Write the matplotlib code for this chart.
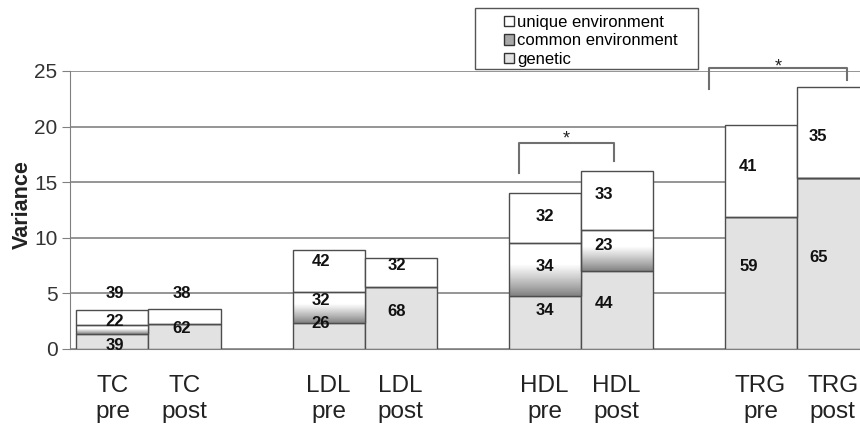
import matplotlib.pyplot as plt
import numpy as np
from matplotlib.patches import Patch, Rectangle

plt.rcParams['font.family'] = ['Liberation Sans', 'DejaVu Sans']

# data
groups = ["TC", "LDL", "HDL", "TRG"]
phases = ["pre", "post"]
total_variance = [3.5, 3.6, 8.9, 8.2, 14.0, 16.0, 20.1, 23.6]
pct_genetic = [39, 62, 26, 68, 34, 44, 59, 65]
pct_common = [22, 0, 32, 0, 34, 23, 0, 0]
pct_unique = [39, 38, 42, 32, 32, 33, 41, 35]
legend_labels = ["unique environment", "common environment", "genetic"]

# label nudges (genetic, common, unique) in variance units, and x nudge per bar
y_nudge = [(-0.4, 0.75, 2.2), (0.7, 0, 2.1), (1.15, 0.6, 0.8), (0.6, 0, 0.6),
           (1.1, 0.3, 0.15), (0.6, 0.45, 0.5), (1.5, 0, 0.4), (0.6, 0, -0.4)]
x_nudge = [0.03, -0.04, -0.11, -0.05, 0.0, -0.18, -0.17, -0.2]

tot = np.array(total_variance)
gen = tot * np.array(pct_genetic) / 100
com = tot * np.array(pct_common) / 100
uni = tot * np.array(pct_unique) / 100
xpos = np.array([g * 3 + p for g in range(len(groups)) for p in range(len(phases))])
xlabels = [f"{g}\n{p}" for g in groups for p in phases]

fig = plt.figure(figsize=(8.6, 4.34), dpi=100)
ax = fig.add_axes([70/860, 85/434, 790/860, 278/434])

edge = '#4d4d4d'
ax.bar(xpos, gen, width=1, color='#e2e2e2', edgecolor=edge, lw=1, zorder=3)

# common environment: white-to-grey gradient
t = np.linspace(0, 1, 200)
grad = 0.5 + 0.5 * np.clip(t / 0.6, 0, 1) ** 0.9
for x, b, h in zip(xpos, gen, com):
    if h > 0:
        ax.imshow(grad[:, None], extent=[x - 0.5, x + 0.5, b, b + h], origin='lower',
                  cmap='gray', vmin=0, vmax=1, aspect='auto', zorder=3)
ax.bar(xpos, com, bottom=gen, width=1, color='none', edgecolor=edge, lw=1, zorder=4)
ax.bar(xpos, uni, bottom=gen + com, width=1, color='white', edgecolor=edge, lw=1, zorder=3)

# percentage labels
for i, x in enumerate(xpos):
    segs = [(0, gen[i], pct_genetic[i]), (gen[i], com[i], pct_common[i]),
            (gen[i] + com[i], uni[i], pct_unique[i])]
    for k, (b, h, p) in enumerate(segs):
        if p > 0:
            ax.text(x + x_nudge[i], b + h / 2 + y_nudge[i][k], str(p), ha='center',
                    va='center', fontsize=12, fontweight='bold', color='#111111', zorder=6)

# significance brackets
def bracket(x0, x1, yl, yr, ytop, ystar):
    ax.plot([x0, x0, x1, x1], [yl, ytop, ytop, yr], color='#707070', lw=1.5,
            clip_on=False, zorder=5)
    ax.text((x0 + x1) / 2, ystar, '*', ha='center', va='center', fontsize=13,
            color='#222222', clip_on=False, zorder=6)

bracket(5.64, 6.96, 15.8, 16.9, 18.5, 18.85)
bracket(8.28, 10.2, 23.4, 24.2, 25.3, 25.35)

ax.set_xlim(-0.59, 10.38)
ax.set_ylim(0, 25)
ax.set_yticks(range(0, 26, 5))
ax.yaxis.grid(True, color='#8c8c8c', lw=1.3)
ax.set_axisbelow(True)
ax.set_xticks(xpos)
ax.set_xticklabels(xlabels, fontsize=17.5, linespacing=1.2, color='#222222')
ax.tick_params(axis='x', length=0, pad=19)
ax.tick_params(axis='y', labelsize=15, colors='#808080', labelcolor='#333333',
               length=6, pad=3)
for s in ['top', 'right']:
    ax.spines[s].set_visible(False)
ax.spines['left'].set_color('#808080')
ax.spines['bottom'].set_color('#808080')
ax.set_ylabel('Variance', fontsize=15.5, fontweight='bold', color='#222222')
ax.yaxis.set_label_coords(-0.047, 0.518)

# legend with its own box
fig.add_artist(Rectangle((475/860, 1 - 69/434), 223/860, 61/434, transform=fig.transFigure,
                         fill=False, ec='#555555', lw=1))
handles = [Patch(fc='white', ec='#333333'), Patch(fc='#a8a8a8', ec='#333333'),
           Patch(fc='#e2e2e2', ec='#333333')]
fig.legend(handles, legend_labels, loc='upper left', bbox_to_anchor=(504/860, 1 - 15/434),
           frameon=False, fontsize=12, handlelength=0.6, handleheight=0.6,
           handletextpad=0.2, labelspacing=0.2, borderpad=0, borderaxespad=0)

fig.savefig('out.png', dpi=100)
